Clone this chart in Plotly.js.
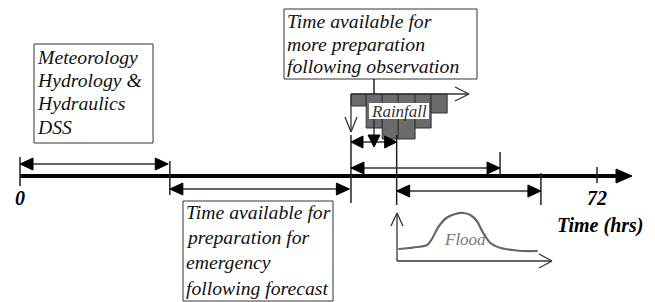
<!DOCTYPE html>
<html><head><meta charset="utf-8">
<script src="https://cdn.plot.ly/plotly-3.0.1.min.js"></script>
<style>html,body{margin:0;padding:0;background:#fff}#c{width:655px;height:302px}</style>
</head><body><div id="c"></div>
<script>
// ---- data (time in hours) ----
const tickLabels = ["0", "72"];
const tickHours = [0, 72];
const milestoneHours = [0, 18.7, 41.3, 47.0, 59.9, 65.0, 72];
const spanStart = [0, 18.7, 41.3, 41.3, 47.0];
const spanEnd = [18.5, 41.1, 47.0, 59.9, 65.0];
const rainStartHours = [41.3, 43.2, 45.2, 47.2, 49.3, 51.3];
const rainDepth = [12, 34, 45, 45, 34, 19];
const floodHours = [47.2, 48.5, 49.6, 50.8, 51.4, 52.2, 53.2, 54.3, 55.3, 56.2, 57.0, 57.8, 58.7, 60.0, 61.5, 62.8, 64.6];
const floodLevel = [12, 13, 14, 16, 22, 34, 43, 47, 48, 46, 40, 28, 18, 13, 11, 10, 10];
const boxTexts = [
  ["Meteorology", "Hydrology &amp;", "Hydraulics", "DSS"],
  ["Time available for", "more preparation", "following observation"],
  ["Time available for", "preparation for", "emergency", "following forecast"]
];

// ---- layout helpers (pixel -> hours) ----
const PXH = 8.014, X0 = 20;
const h = px => (px - X0) / PXH;
const hp = hr => X0 + hr * PXH;
const shapeList = [], annList = [], traceList = [];
const dark = '#222';
const baseFont = {family: 'Liberation Serif', size: 19.7, color: '#111'};
const mkFont = o => Object.assign({}, baseFont, o || {});

function addLine(x0, y0, x1, y1, w, c) {
  shapeList.push({type: 'line', xref: 'x', yref: 'y', x0: h(x0), y0: y0, x1: h(x1), y1: y1, line: {color: c || dark, width: w || 1.5}});
}
function addTri(pts, c) {
  const d = 'M' + pts.map(p => h(p[0]) + ',' + p[1]).join('L') + 'Z';
  shapeList.push({type: 'path', xref: 'x', yref: 'y', path: d, fillcolor: c || '#000', line: {color: c || '#000', width: 1}});
}
function dblArrow(x0, x1, y, L, H) {
  addLine(x0 + L - 1, y, x1 - L + 1, y, 1.5, '#333');
  addTri([[x0, y], [x0 + L, y - H], [x0 + L, y + H]]);
  addTri([[x1, y], [x1 - L, y - H], [x1 - L, y + H]]);
}
function openHead(tip, back1, back2) {
  addLine(back1[0], back1[1], tip[0], tip[1], 1.3, '#333');
  addLine(back2[0], back2[1], tip[0], tip[1], 1.3, '#333');
}
function addRect(x0, y0, x1, y1, fill) {
  shapeList.push({type: 'rect', xref: 'x', yref: 'y', x0: h(x0), y0: y0, x1: h(x1), y1: y1, line: {color: fill ? 'rgba(0,0,0,0)' : '#333', width: fill ? 0 : 1}, fillcolor: fill || 'rgba(0,0,0,0)', layer: 'above'});
}
function addText(t, x, y, opts) {
  const o = opts || {};
  annList.push({text: t, x: h(x), y: y, xref: 'x', yref: 'y', showarrow: false, xanchor: o.xanchor || 'left', yanchor: 'middle', font: mkFont(o.font)});
}

// main time axis
addLine(hp(0), 176, 618, 176, 4, '#000');
addTri([[632, 176], [616, 169], [616, 183]]);

// milestone ticks
const tickTop = [157, 161, 135, 135, 152, 173, 167];
const tickBot = [186, 195, 203, 205, 176, 205, 183];
milestoneHours.forEach((m, i) => addLine(hp(m), tickTop[i], hp(m), tickBot[i], 1.5, '#222'));

// spans
const spanY = [164, 189, 142, 168, 191];
spanStart.forEach((s, i) => {
  const L = i === 2 ? 12 : 13;
  dblArrow(hp(s), hp(spanEnd[i]), spanY[i], L, 6);
});

// tick labels
tickHours.forEach((t, i) => addText('<b><i>' + tickLabels[i] + '</i></b>', hp(t), 198, {xanchor: 'center', font: {size: 20, color: '#000'}}));
addText('<b><i>Time (hrs)</i></b>', 600, 225, {xanchor: 'center', font: {size: 20, color: '#000'}});

// boxes
addRect(34, 44, 153, 143);
addRect(284, 9, 477, 79);
addRect(183, 201, 333, 301);
const boxLeft = [35, 285, 184];
const boxLineY = [[57, 80, 103, 127], [21, 44, 66], [212, 237, 262, 288]];
boxTexts.forEach((lines, b) => lines.forEach((t, j) => addText('<i>' + t + '</i>', boxLeft[b], boxLineY[b][j])));

// rainfall hyetograph
const rainTop = 94;
const rainWidth = rainStartHours.map((s, i) => (i < rainStartHours.length - 1 ? rainStartHours[i + 1] : s + 2.0) - s);
traceList.push({type: 'bar', x: rainStartHours.map((s, i) => s + rainWidth[i] / 2), y: rainDepth, base: rainTop, width: rainWidth,
  marker: {color: '#6b6b6b', line: {color: '#333', width: 1}}, hoverinfo: 'skip'});
addLine(374, 79, 374, rainTop);
addLine(351, rainTop, 468, rainTop, 1.3, '#333');
openHead([469, rainTop], [455, 87], [455, 101]);
addLine(351, rainTop, 351, 132, 1.3, '#333');
openHead([351, 132], [345, 117], [357, 117]);
addRect(369, 103, 429, 119, '#fff');
addText('<i>Rainfall</i>', 399, 111, {xanchor: 'center', font: {size: 17, color: '#333'}});
addLine(374, 119, 374, 136, 1.3, '#222');
addTri([[374, 147], [368, 135], [380, 135]]);

// flood hydrograph
const floodBase = 261;
traceList.push({type: 'scatter', mode: 'lines', x: floodHours, y: floodLevel.map(v => floodBase - v), line: {color: '#666', width: 2.2, shape: 'spline', smoothing: 0.8}, hoverinfo: 'skip'});
addLine(397, 213, 397, floodBase, 1.3, '#333');
openHead([397, 213], [391, 226], [403, 226]);
addLine(397, floodBase, 551, floodBase, 1.3, '#333');
openHead([552, floodBase], [539, 254], [539, 268]);
addText('<i>Flood</i>', 465, 239, {xanchor: 'center', font: {size: 17, color: '#777'}});

Plotly.newPlot('c', traceList, {
  width: 655, height: 302, margin: {l: 0, r: 0, t: 0, b: 0},
  font: {family: 'Liberation Serif'},
  paper_bgcolor: '#fff', plot_bgcolor: '#fff', showlegend: false, bargap: 0,
  xaxis: {range: [h(0), h(655)], visible: false, fixedrange: true},
  yaxis: {range: [302, 0], visible: false, fixedrange: true},
  shapes: shapeList, annotations: annList
}, {staticPlot: true});
</script></body></html>
